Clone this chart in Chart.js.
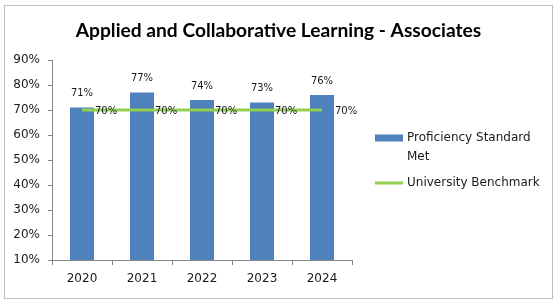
<!DOCTYPE html>
<html>
<head>
<meta charset="utf-8">
<script src="https://cdn.jsdelivr.net/npm/chart.js@4/dist/chart.umd.min.js"></script>
<style>
  html, body { margin: 0; padding: 0; background: #fff; }
  #wrap { width: 557px; height: 305px; position: relative; }
</style>
</head>
<body>
<div id="wrap"><canvas id="canvas" width="557" height="305"></canvas></div>
<script>
// chart data:
const years = ['2020', '2021', '2022', '2023', '2024'];
const proficiency = [71, 77, 74, 73, 76];
const benchmark = [70, 70, 70, 70, 70];
// legend text, wrapped the way the original wraps it:
const legendText = [['Proficiency Standard', 'Met'], ['University Benchmark']];
const titleText = 'Applied and Collaborative Learning - Associates';

const barColor = '#4F81BD';
const lineColor = '#92D050';
const axisColor = '#868686';

// draws the outer frame and the title, centred on the whole canvas:
const framePlugin = {
  id: 'frame',
  beforeDraw(chart) {
    const c = chart.ctx;
    c.save();
    c.fillStyle = '#fff';
    c.fillRect(0, 0, chart.width, chart.height);
    c.strokeStyle = '#B4C0CE';
    c.lineWidth = 1;
    c.strokeRect(4.5, 5.5, chart.width - 9, chart.height - 12);
    c.font = 'bold 19.2px Lato';
    c.fillStyle = '#000';
    c.textAlign = 'center';
    c.textBaseline = 'middle';
    c.fillText(titleText, chart.width / 2, 31);
    c.restore();
  }
};

// value labels above the bars and right of the line points:
const valueLabels = {
  id: 'valueLabels',
  afterDatasetsDraw(chart) {
    const c = chart.ctx;
    c.save();
    c.font = '10px "DejaVu Sans"';
    c.fillStyle = '#1a1a1a';
    c.textBaseline = 'middle';
    chart.getDatasetMeta(0).data.forEach((bar, i) => {
      c.textAlign = 'center';
      c.fillText(proficiency[i] + '%', bar.x, bar.y - 14);
    });
    chart.getDatasetMeta(1).data.forEach((pt, i) => {
      c.textAlign = 'left';
      c.fillText(benchmark[i] + '%', pt.x + 13, pt.y + 1);
    });
    c.restore();
  }
};

// legend on the right, with wrapped text:
const sideLegend = {
  id: 'sideLegend',
  afterDraw(chart) {
    const c = chart.ctx;
    const area = chart.chartArea;
    const x = area.right + 23;
    const midY = (area.top + area.bottom) / 2;
    c.save();
    c.font = '12px "DejaVu Sans"';
    c.textBaseline = 'middle';
    c.textAlign = 'left';
    // first item: bar
    let y = midY - 22;
    c.fillStyle = barColor;
    c.fillRect(x, y - 3.5, 28, 7);
    c.fillStyle = '#1a1a1a';
    legendText[0].forEach((t, i) => c.fillText(t, x + 32, y + i * 19));
    // second item: line
    y = midY + 23;
    c.strokeStyle = lineColor;
    c.lineWidth = 3;
    c.beginPath();
    c.moveTo(x, y);
    c.lineTo(x + 28, y);
    c.stroke();
    legendText[1].forEach((t, i) => c.fillText(t, x + 32, y + i * 19));
    c.restore();
  }
};

const data = {
  labels: years,
  datasets: [{
    type: 'bar',
    label: 'Proficiency Standard Met',
    data: proficiency,
    backgroundColor: barColor,
    categoryPercentage: 1,
    barPercentage: 0.4,
    order: 2
  }, {
    type: 'line',
    label: 'University Benchmark',
    data: benchmark,
    borderColor: lineColor,
    borderWidth: 3,
    pointRadius: 0,
    fill: false,
    order: 1
  }]
};

const config = {
  data: data,
  options: {
    responsive: false,
    animation: false,
    layout: {
      padding: { left: 0, right: 205, top: 60, bottom: 0 }
    },
    plugins: {
      legend: { display: false },
      tooltip: { enabled: false },
      title: { display: false }
    },
    scales: {
      x: {
        offset: true,
        grid: {
          offset: true,
          drawOnChartArea: false,
          drawTicks: true,
          tickLength: 5,
          color: axisColor
        },
        border: { color: axisColor },
        ticks: {
          color: '#1a1a1a',
          padding: 7,
          font: { family: 'DejaVu Sans', size: 12 }
        },
        afterFit(scale) { scale.height = 45; }
      },
      y: {
        min: 10,
        max: 90,
        grid: {
          drawOnChartArea: false,
          drawTicks: true,
          tickLength: 4,
          color: axisColor
        },
        border: { color: axisColor },
        ticks: {
          stepSize: 10,
          color: '#1a1a1a',
          padding: 8,
          font: { family: 'DejaVu Sans', size: 12 },
          callback: v => v + '%'
        },
        afterFit(scale) { scale.width = 52; }
      }
    }
  },
  plugins: [framePlugin, valueLabels, sideLegend]
};

const chart = new Chart(document.getElementById('canvas').getContext('2d'), config);
</script>
</body>
</html>
